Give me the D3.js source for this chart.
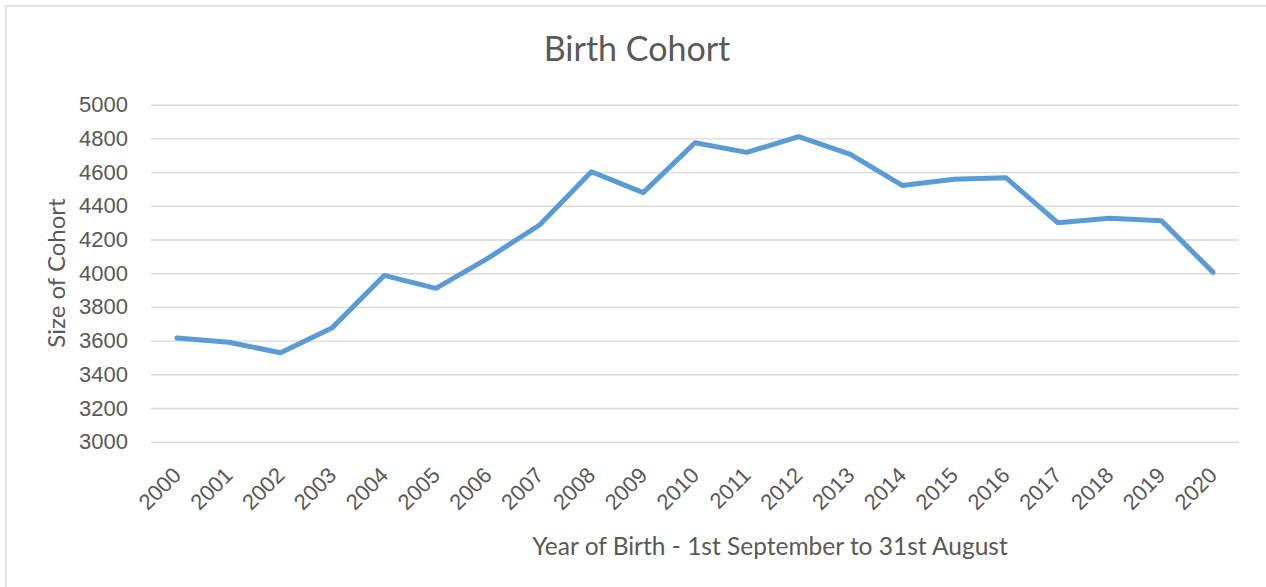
<!DOCTYPE html>
<html>
<head>
<meta charset="utf-8">
<script src="https://cdn.jsdelivr.net/npm/d3@7"></script>
<style>
  body { margin: 0; background: #fff; }
  svg { display: block; font-family: Lato, "Open Sans", sans-serif; }
</style>
</head>
<body>
<svg id="chart" width="1266" height="587"></svg>
<script>
// birth cohort sizes
var years = ["2000", "2001", "2002", "2003", "2004", "2005", "2006", "2007", "2008", "2009", "2010",
             "2011", "2012", "2013", "2014", "2015", "2016", "2017", "2018", "2019", "2020"];
var cohort = [3615, 3590, 3528, 3677, 3987, 3910, 4088, 4286, 4602, 4478, 4774,
              4717, 4810, 4705, 4521, 4557, 4567, 4300, 4326, 4312, 4005];
var yTicks = [3000, 3200, 3400, 3600, 3800, 4000, 4200, 4400, 4600, 4800, 5000];

var svg = d3.select("svg#chart");
var textColor = "#595959";

// chart frame (right and bottom edges fall outside the picture)
svg.append("rect")
  .attr("x", 6).attr("y", 6)
  .attr("width", 1400).attr("height", 800)
  .attr("fill", "none")
  .attr("stroke", "#d9d9d9")
  .attr("stroke-width", 1.5);

var x = d3.scalePoint()
  .domain(years)
  .range([151, 1239])
  .padding(0.5);

var y = d3.scaleLinear()
  .domain([3000, 5000])
  .range([441.7, 104.7]);

// gridlines + y labels
var gY = svg.append("g")
  .attr("transform", "translate(151,0)")
  .call(d3.axisLeft(y)
    .tickValues(yTicks)
    .tickSize(-1088)
    .tickPadding(23)
    .tickFormat(d3.format("d")));
gY.select(".domain").remove();
gY.selectAll(".tick line").attr("stroke", "#d9d9d9").attr("stroke-width", 1.4);
gY.selectAll(".tick text")
  .attr("fill", textColor)
  .attr("font-size", 22);

// x labels, rotated
var gX = svg.append("g")
  .attr("transform", "translate(0,441.7)")
  .call(d3.axisBottom(x).tickSize(0).tickPadding(0));
gX.select(".domain").remove();
gX.selectAll(".tick text")
  .attr("fill", textColor)
  .attr("font-size", 22)
  .attr("text-anchor", "end")
  .attr("transform", "translate(-6,24) rotate(-45)")
  .attr("y", 0)
  .attr("x", 0)
  .attr("dy", "0.7em");

var line = d3.line()
  .x((d, i) => x(years[i]))
  .y(d => y(d));

svg.append("path")
  .datum(cohort)
  .attr("fill", "none")
  .attr("stroke", "#5b9bd5")
  .attr("stroke-width", 5)
  .attr("stroke-linejoin", "round")
  .attr("stroke-linecap", "round")
  .attr("d", line);

svg.append("text")
  .attr("x", 637)
  .attr("y", 61)
  .attr("text-anchor", "middle")
  .attr("fill", textColor)
  .attr("font-size", 34)
  .text("Birth Cohort");

svg.append("text")
  .attr("transform", "translate(65,273) rotate(-90)")
  .attr("text-anchor", "middle")
  .attr("fill", textColor)
  .attr("font-size", 24)
  .text("Size of Cohort");

svg.append("text")
  .attr("x", 770)
  .attr("y", 555)
  .attr("text-anchor", "middle")
  .attr("fill", textColor)
  .attr("font-size", 24.5)
  .text("Year of Birth - 1st September to 31st August");
</script>
</body>
</html>
